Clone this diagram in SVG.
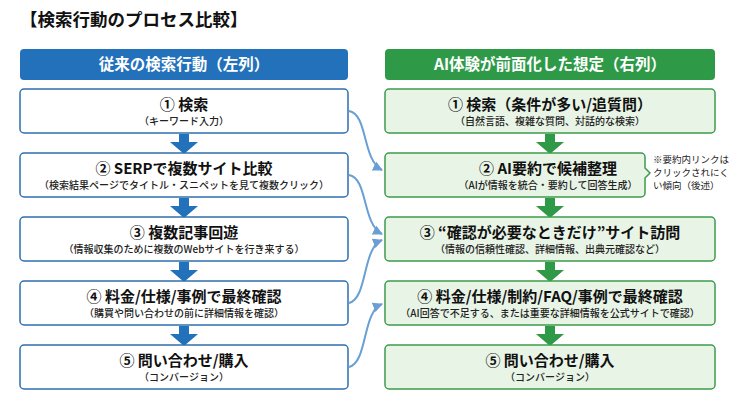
<svg xmlns="http://www.w3.org/2000/svg" width="740" height="404" viewBox="0 0 740 404">
<style>
text{font-family:"Noto Sans CJK JP","Noto Sans",sans-serif;text-anchor:middle}
.t{font-size:15px;font-weight:700;fill:#111}
.s{font-size:10px;font-weight:500;fill:#222}
.lb{fill:#fff;stroke:#2f6fae;stroke-width:1.5}
.rb{fill:#e8f4e6;stroke:#3c9a4c;stroke-width:1.5}
.hd{font-size:15.5px;font-weight:700;fill:#fff}
.cn{fill:none;stroke:#6a9fd4;stroke-width:2}
.n{text-anchor:start;font-size:9.5px;fill:#222}
</style>
<defs>
<marker id="ah" viewBox="0 0 10 10" refX="9" refY="5" markerWidth="5" markerHeight="5" orient="auto"><path d="M0,0L10,5L0,10z" fill="#6a9fd4"/></marker>
<path id="da" d="M-5,0h10v8h9l-14,12l-14,-12h9z"/>
</defs>
<rect width="740" height="404" fill="#fff"/>
<text x="20" y="26" style="font-size:17.5px;font-weight:700;text-anchor:start;fill:#111">【検索行動のプロセス比較】</text>
<g id="hdrL"><rect x="20" y="49" width="328" height="31" rx="4" fill="#2371bb"/><text class="hd" x="184" y="70">従来の検索行動（左列）</text></g>
<g id="hdrR"><rect x="385" y="49" width="330" height="31" rx="4" fill="#2e9a47"/><text class="hd" x="550" y="70">AI体験が前面化した想定（右列）</text></g>
<g id="arrowsL" fill="#2371bb">
<use href="#da" x="184" y="134"/><use href="#da" x="184" y="198"/><use href="#da" x="184" y="262"/><use href="#da" x="184" y="326"/></g>
<g id="arrowsR" fill="#2e9a47">
<use href="#da" x="550" y="134"/><use href="#da" x="550" y="198"/><use href="#da" x="550" y="262"/><use href="#da" x="550" y="326"/></g>
<g id="L1"><rect class="lb" x="20" y="89" width="328" height="44" rx="4"/><text class="t" x="184" y="110">① 検索</text><text class="s" x="184" y="125">（キーワード入力）</text></g>
<g id="L2"><rect class="lb" x="20" y="153" width="328" height="44" rx="4"/><text class="t" x="184" y="174">② SERPで複数サイト比較</text><text class="s" x="184" y="189">（検索結果ページでタイトル・スニペットを見て複数クリック）</text></g>
<g id="L3"><rect class="lb" x="20" y="217" width="328" height="44" rx="4"/><text class="t" x="184" y="238">③ 複数記事回遊</text><text class="s" x="184" y="253">（情報収集のために複数のWebサイトを行き来する）</text></g>
<g id="L4"><rect class="lb" x="20" y="281" width="328" height="44" rx="4"/><text class="t" x="184" y="302">④ 料金/仕様/事例で最終確認</text><text class="s" x="184" y="317">（購買や問い合わせの前に詳細情報を確認）</text></g>
<g id="L5"><rect class="lb" x="20" y="345" width="328" height="44" rx="4"/><text class="t" x="184" y="366">⑤ 問い合わせ/購入</text><text class="s" x="184" y="381">（コンバージョン）</text></g>
<g id="R1"><rect class="rb" x="385" y="89" width="330" height="44" rx="4"/><text class="t" x="550" y="110">① 検索（条件が多い/追質問）</text><text class="s" x="550" y="125">（自然言語、複雑な質問、対話的な検索）</text></g>
<g id="R2"><path class="rb" d="M389,153H641a4,4 0 0 1 4,4V168l5,5l-5,5V193a4,4 0 0 1 -4,4H389a4,4 0 0 1 -4,-4V157a4,4 0 0 1 4,-4z"/><text class="t" x="548" y="174">② AI要約で候補整理</text><text class="s" x="548" y="189">（AIが情報を統合・要約して回答生成）</text></g>
<g id="note"><text class="n" x="653" y="163">※要約内リンクは</text><text class="n" x="653" y="176">クリックされにく</text><text class="n" x="653" y="189">い傾向（後述）</text></g>
<g id="R3"><rect class="rb" x="385" y="217" width="330" height="44" rx="4"/><text class="t" x="550" y="238">③ “確認が必要なときだけ”サイト訪問</text><text class="s" x="550" y="253">（情報の信頼性確認、詳細情報、出典元確認など）</text></g>
<g id="R4"><rect class="rb" x="385" y="281" width="330" height="44" rx="4"/><text class="t" x="550" y="302">④ 料金/仕様/制約/FAQ/事例で最終確認</text><text class="s" x="550" y="317">（AI回答で不足する、または重要な詳細情報を公式サイトで確認）</text></g>
<g id="R5"><rect class="rb" x="385" y="345" width="330" height="44" rx="4"/><text class="t" x="550" y="366">⑤ 問い合わせ/購入</text><text class="s" x="550" y="381">（コンバージョン）</text></g>
<g id="connectors">
<path class="cn" marker-end="url(#ah)" d="M349,111C368,114 362,160 382,170"/>
<path class="cn" marker-end="url(#ah)" d="M349,175C368,178 362,224 382,234"/>
<path class="cn" marker-end="url(#ah)" d="M349,303C368,298 362,248 382,240"/>
<path class="cn" marker-end="url(#ah)" d="M349,367C368,362 362,312 382,304"/>
</g>
</svg>
